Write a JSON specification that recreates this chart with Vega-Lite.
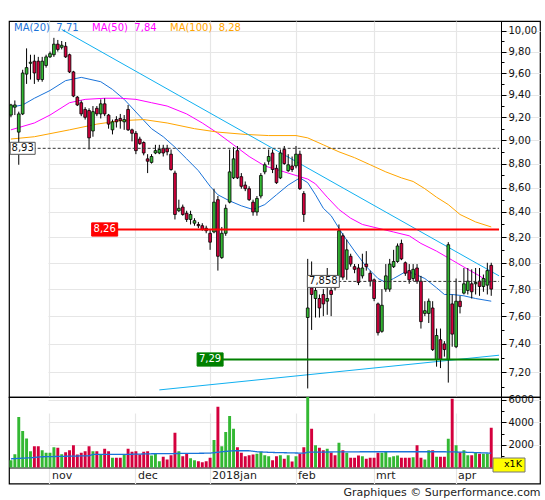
{
  "$schema": "https://vega.github.io/schema/vega-lite/v6.json",
  "padding": {"left": 7, "top": 20, "right": 0, "bottom": 0},
  "background": "white",
  "bounds": "flush",
  "title": {"text": "Graphiques © Surperformance.com", "orient": "bottom", "anchor": "end", "fontSize": 11, "fontWeight": "normal", "color": "#222", "offset": 3},
  "config": {
    "font": "DejaVu Sans",
    "view": {"stroke": "#000", "strokeWidth": 1.2},
    "axis": {"labelColor": "#111", "labelFontSize": 10, "domainColor": "#000", "tickColor": "#000", "gridColor": "#e6e6e6", "gridWidth": 1.2}
  },
  "datasets": {
    "days": [
      {"d": "2017-10-18", "o": 9.22, "h": 9.32, "l": 9.20, "c": 9.31, "v": 651},
      {"d": "2017-10-19", "o": 9.29, "h": 9.35, "l": 9.22, "c": 9.31, "v": 1184},
      {"d": "2017-10-20", "o": 9.07, "h": 9.25, "l": 8.79, "c": 9.23, "v": 4470},
      {"d": "2017-10-23", "o": 9.23, "h": 9.63, "l": 9.22, "c": 9.60, "v": 3226},
      {"d": "2017-10-24", "o": 9.59, "h": 9.83, "l": 9.50, "c": 9.65, "v": 2575},
      {"d": "2017-10-25", "o": 9.69, "h": 9.77, "l": 9.54, "c": 9.70, "v": 1451},
      {"d": "2017-10-26", "o": 9.71, "h": 9.77, "l": 9.50, "c": 9.60, "v": 1894},
      {"d": "2017-10-27", "o": 9.71, "h": 9.75, "l": 9.52, "c": 9.54, "v": 1894},
      {"d": "2017-10-30", "o": 9.54, "h": 9.75, "l": 9.52, "c": 9.71, "v": 1540},
      {"d": "2017-10-31", "o": 9.67, "h": 9.77, "l": 9.65, "c": 9.75, "v": 1302},
      {"d": "2017-11-01", "o": 9.75, "h": 9.80, "l": 9.74, "c": 9.78, "v": 1302},
      {"d": "2017-11-02", "o": 9.77, "h": 9.93, "l": 9.75, "c": 9.87, "v": 1806},
      {"d": "2017-11-03", "o": 9.87, "h": 9.91, "l": 9.80, "c": 9.82, "v": 1746},
      {"d": "2017-11-06", "o": 9.84, "h": 9.90, "l": 9.82, "c": 9.86, "v": 1184},
      {"d": "2017-11-07", "o": 9.85, "h": 9.89, "l": 9.74, "c": 9.75, "v": 1362},
      {"d": "2017-11-08", "o": 9.77, "h": 9.78, "l": 9.60, "c": 9.61, "v": 1540},
      {"d": "2017-11-09", "o": 9.61, "h": 9.62, "l": 9.38, "c": 9.39, "v": 1983},
      {"d": "2017-11-10", "o": 9.38, "h": 9.39, "l": 9.30, "c": 9.31, "v": 1154},
      {"d": "2017-11-13", "o": 9.33, "h": 9.35, "l": 9.21, "c": 9.23, "v": 1302},
      {"d": "2017-11-14", "o": 9.27, "h": 9.29, "l": 9.18, "c": 9.20, "v": 1450},
      {"d": "2017-11-15", "o": 9.26, "h": 9.28, "l": 8.92, "c": 9.02, "v": 1894},
      {"d": "2017-11-16", "o": 9.08, "h": 9.30, "l": 9.03, "c": 9.25, "v": 1450},
      {"d": "2017-11-17", "o": 9.28, "h": 9.30, "l": 9.21, "c": 9.23, "v": 1450},
      {"d": "2017-11-20", "o": 9.23, "h": 9.36, "l": 9.19, "c": 9.32, "v": 1154},
      {"d": "2017-11-21", "o": 9.32, "h": 9.37, "l": 9.21, "c": 9.23, "v": 1658},
      {"d": "2017-11-22", "o": 9.22, "h": 9.23, "l": 9.10, "c": 9.14, "v": 1450},
      {"d": "2017-11-23", "o": 9.09, "h": 9.18, "l": 9.05, "c": 9.16, "v": 858},
      {"d": "2017-11-24", "o": 9.18, "h": 9.21, "l": 9.11, "c": 9.16, "v": 858},
      {"d": "2017-11-27", "o": 9.19, "h": 9.23, "l": 9.10, "c": 9.17, "v": 858},
      {"d": "2017-11-28", "o": 9.16, "h": 9.22, "l": 9.09, "c": 9.18, "v": 1154},
      {"d": "2017-11-29", "o": 9.27, "h": 9.31, "l": 9.08, "c": 9.09, "v": 1658},
      {"d": "2017-11-30", "o": 9.09, "h": 9.10, "l": 8.99, "c": 9.06, "v": 1391},
      {"d": "2017-12-01", "o": 9.06, "h": 9.08, "l": 8.88, "c": 8.91, "v": 1450},
      {"d": "2017-12-04", "o": 9.01, "h": 9.03, "l": 8.96, "c": 8.97, "v": 1154},
      {"d": "2017-12-05", "o": 8.98, "h": 8.99, "l": 8.87, "c": 8.89, "v": 1391},
      {"d": "2017-12-06", "o": 8.84, "h": 8.88, "l": 8.72, "c": 8.82, "v": 1450},
      {"d": "2017-12-07", "o": 8.81, "h": 8.88, "l": 8.80, "c": 8.86, "v": 1066},
      {"d": "2017-12-08", "o": 8.89, "h": 8.96, "l": 8.88, "c": 8.91, "v": 1243},
      {"d": "2017-12-11", "o": 8.89, "h": 8.96, "l": 8.88, "c": 8.92, "v": 562},
      {"d": "2017-12-12", "o": 8.93, "h": 8.96, "l": 8.86, "c": 8.89, "v": 947},
      {"d": "2017-12-13", "o": 8.93, "h": 8.96, "l": 8.87, "c": 8.90, "v": 710},
      {"d": "2017-12-14", "o": 8.88, "h": 8.92, "l": 8.74, "c": 8.75, "v": 1095},
      {"d": "2017-12-15", "o": 8.72, "h": 8.74, "l": 8.34, "c": 8.38, "v": 3078},
      {"d": "2017-12-18", "o": 8.41, "h": 8.50, "l": 8.40, "c": 8.43, "v": 1450},
      {"d": "2017-12-19", "o": 8.44, "h": 8.46, "l": 8.37, "c": 8.38, "v": 1006},
      {"d": "2017-12-20", "o": 8.39, "h": 8.41, "l": 8.32, "c": 8.34, "v": 1214},
      {"d": "2017-12-21", "o": 8.34, "h": 8.41, "l": 8.30, "c": 8.38, "v": 829},
      {"d": "2017-12-22", "o": 8.31, "h": 8.35, "l": 8.29, "c": 8.33, "v": 651},
      {"d": "2017-12-27", "o": 8.30, "h": 8.32, "l": 8.27, "c": 8.29, "v": 562},
      {"d": "2017-12-28", "o": 8.29, "h": 8.31, "l": 8.25, "c": 8.26, "v": 474},
      {"d": "2017-12-29", "o": 8.27, "h": 8.29, "l": 8.23, "c": 8.25, "v": 562},
      {"d": "2018-01-02", "o": 8.23, "h": 8.26, "l": 8.10, "c": 8.16, "v": 858},
      {"d": "2018-01-03", "o": 8.24, "h": 8.59, "l": 8.23, "c": 8.48, "v": 2427},
      {"d": "2018-01-04", "o": 8.50, "h": 8.53, "l": 7.94, "c": 8.05, "v": 5387},
      {"d": "2018-01-05", "o": 8.04, "h": 8.28, "l": 8.03, "c": 8.23, "v": 1894},
      {"d": "2018-01-08", "o": 8.23, "h": 8.46, "l": 8.21, "c": 8.43, "v": 3138},
      {"d": "2018-01-09", "o": 8.48, "h": 8.92, "l": 8.47, "c": 8.73, "v": 4558},
      {"d": "2018-01-10", "o": 8.68, "h": 8.94, "l": 8.67, "c": 8.84, "v": 3434},
      {"d": "2018-01-11", "o": 8.91, "h": 8.95, "l": 8.67, "c": 8.68, "v": 1806},
      {"d": "2018-01-12", "o": 8.69, "h": 8.72, "l": 8.59, "c": 8.61, "v": 1302},
      {"d": "2018-01-15", "o": 8.62, "h": 8.65, "l": 8.57, "c": 8.59, "v": 1006},
      {"d": "2018-01-16", "o": 8.59, "h": 8.61, "l": 8.49, "c": 8.50, "v": 1095},
      {"d": "2018-01-17", "o": 8.48, "h": 8.50, "l": 8.37, "c": 8.40, "v": 1154},
      {"d": "2018-01-18", "o": 8.40, "h": 8.53, "l": 8.37, "c": 8.51, "v": 1214},
      {"d": "2018-01-19", "o": 8.53, "h": 8.72, "l": 8.51, "c": 8.70, "v": 1391},
      {"d": "2018-01-22", "o": 8.73, "h": 8.81, "l": 8.71, "c": 8.79, "v": 1095},
      {"d": "2018-01-23", "o": 8.82, "h": 8.92, "l": 8.79, "c": 8.86, "v": 1006},
      {"d": "2018-01-24", "o": 8.89, "h": 8.92, "l": 8.72, "c": 8.75, "v": 651},
      {"d": "2018-01-25", "o": 8.76, "h": 8.79, "l": 8.63, "c": 8.64, "v": 1006},
      {"d": "2018-01-26", "o": 8.68, "h": 8.92, "l": 8.67, "c": 8.89, "v": 1095},
      {"d": "2018-01-29", "o": 8.92, "h": 8.95, "l": 8.79, "c": 8.80, "v": 770},
      {"d": "2018-01-30", "o": 8.74, "h": 8.88, "l": 8.73, "c": 8.79, "v": 1095},
      {"d": "2018-01-31", "o": 8.78, "h": 8.86, "l": 8.73, "c": 8.75, "v": 533},
      {"d": "2018-02-01", "o": 8.78, "h": 8.95, "l": 8.76, "c": 8.88, "v": 1006},
      {"d": "2018-02-02", "o": 8.88, "h": 8.91, "l": 8.58, "c": 8.59, "v": 1214},
      {"d": "2018-02-05", "o": 8.55, "h": 8.57, "l": 8.32, "c": 8.38, "v": 1806},
      {"d": "2018-02-06", "o": 7.59, "h": 8.03, "l": 7.09, "c": 7.66, "v": 6800},
      {"d": "2018-02-07", "o": 7.81, "h": 8.01, "l": 7.50, "c": 7.76, "v": 3434},
      {"d": "2018-02-08", "o": 7.73, "h": 7.81, "l": 7.59, "c": 7.79, "v": 1983},
      {"d": "2018-02-09", "o": 7.73, "h": 7.76, "l": 7.59, "c": 7.66, "v": 1746},
      {"d": "2018-02-12", "o": 7.76, "h": 7.80, "l": 7.60, "c": 7.69, "v": 1540},
      {"d": "2018-02-13", "o": 7.71, "h": 7.96, "l": 7.61, "c": 7.73, "v": 1658},
      {"d": "2018-02-14", "o": 7.79, "h": 7.81, "l": 7.60, "c": 7.76, "v": 1302},
      {"d": "2018-02-15", "o": 7.83, "h": 7.86, "l": 7.79, "c": 7.81, "v": 1095},
      {"d": "2018-02-16", "o": 7.89, "h": 8.30, "l": 7.87, "c": 8.25, "v": 2190},
      {"d": "2018-02-19", "o": 8.21, "h": 8.23, "l": 7.87, "c": 7.89, "v": 1540},
      {"d": "2018-02-20", "o": 7.95, "h": 8.18, "l": 7.87, "c": 8.10, "v": 1302},
      {"d": "2018-02-21", "o": 8.05, "h": 8.07, "l": 7.97, "c": 7.99, "v": 858},
      {"d": "2018-02-22", "o": 7.97, "h": 7.99, "l": 7.92, "c": 7.95, "v": 858},
      {"d": "2018-02-23", "o": 7.96, "h": 7.99, "l": 7.83, "c": 7.85, "v": 1066},
      {"d": "2018-02-26", "o": 7.90, "h": 8.07, "l": 7.88, "c": 7.96, "v": 1006},
      {"d": "2018-02-27", "o": 7.99, "h": 8.09, "l": 7.94, "c": 7.97, "v": 770},
      {"d": "2018-02-28", "o": 7.92, "h": 7.94, "l": 7.82, "c": 7.86, "v": 858},
      {"d": "2018-03-01", "o": 7.87, "h": 7.88, "l": 7.71, "c": 7.73, "v": 858},
      {"d": "2018-03-02", "o": 7.69, "h": 7.70, "l": 7.46, "c": 7.48, "v": 1302},
      {"d": "2018-03-05", "o": 7.49, "h": 7.80, "l": 7.48, "c": 7.68, "v": 1302},
      {"d": "2018-03-06", "o": 7.80, "h": 7.99, "l": 7.78, "c": 7.90, "v": 1450},
      {"d": "2018-03-07", "o": 7.80, "h": 8.03, "l": 7.78, "c": 7.99, "v": 918},
      {"d": "2018-03-08", "o": 7.97, "h": 8.10, "l": 7.96, "c": 8.01, "v": 1006},
      {"d": "2018-03-09", "o": 8.01, "h": 8.15, "l": 8.00, "c": 8.13, "v": 1066},
      {"d": "2018-03-12", "o": 8.15, "h": 8.18, "l": 8.02, "c": 8.03, "v": 858},
      {"d": "2018-03-13", "o": 8.00, "h": 8.01, "l": 7.90, "c": 7.92, "v": 858},
      {"d": "2018-03-14", "o": 7.94, "h": 7.99, "l": 7.84, "c": 7.87, "v": 858},
      {"d": "2018-03-15", "o": 7.88, "h": 7.99, "l": 7.86, "c": 7.95, "v": 918},
      {"d": "2018-03-16", "o": 7.96, "h": 7.99, "l": 7.84, "c": 7.86, "v": 1983},
      {"d": "2018-03-19", "o": 7.86, "h": 7.90, "l": 7.51, "c": 7.56, "v": 858},
      {"d": "2018-03-20", "o": 7.62, "h": 7.71, "l": 7.60, "c": 7.64, "v": 710},
      {"d": "2018-03-21", "o": 7.62, "h": 7.73, "l": 7.55, "c": 7.71, "v": 1540},
      {"d": "2018-03-22", "o": 7.66, "h": 7.71, "l": 7.35, "c": 7.36, "v": 1540},
      {"d": "2018-03-23", "o": 7.29, "h": 7.51, "l": 7.24, "c": 7.46, "v": 947},
      {"d": "2018-03-26", "o": 7.43, "h": 7.51, "l": 7.23, "c": 7.29, "v": 947},
      {"d": "2018-03-27", "o": 7.40, "h": 7.42, "l": 7.31, "c": 7.36, "v": 950},
      {"d": "2018-03-28", "o": 7.29, "h": 8.16, "l": 7.13, "c": 8.14, "v": 2546},
      {"d": "2018-03-29", "o": 7.69, "h": 7.76, "l": 7.38, "c": 7.47, "v": 6098},
      {"d": "2018-04-03", "o": 7.38, "h": 7.88, "l": 7.37, "c": 7.71, "v": 1983},
      {"d": "2018-04-04", "o": 7.71, "h": 7.75, "l": 7.62, "c": 7.67, "v": 1362},
      {"d": "2018-04-05", "o": 7.77, "h": 7.96, "l": 7.76, "c": 7.84, "v": 1540},
      {"d": "2018-04-06", "o": 7.79, "h": 7.96, "l": 7.76, "c": 7.86, "v": 1095},
      {"d": "2018-04-09", "o": 7.84, "h": 7.95, "l": 7.73, "c": 7.78, "v": 1095},
      {"d": "2018-04-10", "o": 7.84, "h": 7.96, "l": 7.76, "c": 7.85, "v": 1362},
      {"d": "2018-04-11", "o": 7.86, "h": 7.96, "l": 7.75, "c": 7.82, "v": 1214},
      {"d": "2018-04-12", "o": 7.82, "h": 7.91, "l": 7.78, "c": 7.88, "v": 1214},
      {"d": "2018-04-13", "o": 7.83, "h": 8.00, "l": 7.76, "c": 7.94, "v": 1214},
      {"d": "2018-04-16", "o": 7.98, "h": 8.00, "l": 7.75, "c": 7.80, "v": 3522}
    ],
    "ma": [
      {"d": "2017-10-18", "ma": "MA(20)", "v": 9.29},
      {"d": "2017-10-23", "ma": "MA(20)", "v": 9.31},
      {"d": "2017-10-26", "ma": "MA(20)", "v": 9.37},
      {"d": "2017-11-01", "ma": "MA(20)", "v": 9.44},
      {"d": "2017-11-07", "ma": "MA(20)", "v": 9.53},
      {"d": "2017-11-13", "ma": "MA(20)", "v": 9.56},
      {"d": "2017-11-20", "ma": "MA(20)", "v": 9.52},
      {"d": "2017-11-23", "ma": "MA(20)", "v": 9.45},
      {"d": "2017-11-28", "ma": "MA(20)", "v": 9.36},
      {"d": "2017-12-04", "ma": "MA(20)", "v": 9.21},
      {"d": "2017-12-07", "ma": "MA(20)", "v": 9.10},
      {"d": "2017-12-12", "ma": "MA(20)", "v": 9.03},
      {"d": "2017-12-15", "ma": "MA(20)", "v": 8.94},
      {"d": "2017-12-20", "ma": "MA(20)", "v": 8.84},
      {"d": "2017-12-27", "ma": "MA(20)", "v": 8.74},
      {"d": "2018-01-02", "ma": "MA(20)", "v": 8.61},
      {"d": "2018-01-04", "ma": "MA(20)", "v": 8.54},
      {"d": "2018-01-09", "ma": "MA(20)", "v": 8.49},
      {"d": "2018-01-12", "ma": "MA(20)", "v": 8.45},
      {"d": "2018-01-17", "ma": "MA(20)", "v": 8.42},
      {"d": "2018-01-22", "ma": "MA(20)", "v": 8.46},
      {"d": "2018-01-25", "ma": "MA(20)", "v": 8.54},
      {"d": "2018-01-30", "ma": "MA(20)", "v": 8.62},
      {"d": "2018-02-02", "ma": "MA(20)", "v": 8.68},
      {"d": "2018-02-06", "ma": "MA(20)", "v": 8.64},
      {"d": "2018-02-08", "ma": "MA(20)", "v": 8.54},
      {"d": "2018-02-12", "ma": "MA(20)", "v": 8.43},
      {"d": "2018-02-14", "ma": "MA(20)", "v": 8.37},
      {"d": "2018-02-19", "ma": "MA(20)", "v": 8.22},
      {"d": "2018-02-22", "ma": "MA(20)", "v": 8.09},
      {"d": "2018-02-27", "ma": "MA(20)", "v": 7.97},
      {"d": "2018-03-02", "ma": "MA(20)", "v": 7.88},
      {"d": "2018-03-06", "ma": "MA(20)", "v": 7.85},
      {"d": "2018-03-08", "ma": "MA(20)", "v": 7.88},
      {"d": "2018-03-13", "ma": "MA(20)", "v": 7.93},
      {"d": "2018-03-15", "ma": "MA(20)", "v": 7.92},
      {"d": "2018-03-20", "ma": "MA(20)", "v": 7.88},
      {"d": "2018-03-23", "ma": "MA(20)", "v": 7.81},
      {"d": "2018-03-27", "ma": "MA(20)", "v": 7.76},
      {"d": "2018-03-29", "ma": "MA(20)", "v": 7.76},
      {"d": "2018-04-05", "ma": "MA(20)", "v": 7.75},
      {"d": "2018-04-10", "ma": "MA(20)", "v": 7.73},
      {"d": "2018-04-16", "ma": "MA(20)", "v": 7.71},
      {"d": "2017-10-18", "ma": "MA(50)", "v": 9.09},
      {"d": "2017-10-26", "ma": "MA(50)", "v": 9.15},
      {"d": "2017-11-01", "ma": "MA(50)", "v": 9.22},
      {"d": "2017-11-08", "ma": "MA(50)", "v": 9.33},
      {"d": "2017-11-14", "ma": "MA(50)", "v": 9.36},
      {"d": "2017-11-21", "ma": "MA(50)", "v": 9.37},
      {"d": "2017-11-27", "ma": "MA(50)", "v": 9.37},
      {"d": "2017-12-01", "ma": "MA(50)", "v": 9.36},
      {"d": "2017-12-07", "ma": "MA(50)", "v": 9.33},
      {"d": "2017-12-13", "ma": "MA(50)", "v": 9.30},
      {"d": "2017-12-20", "ma": "MA(50)", "v": 9.23},
      {"d": "2017-12-28", "ma": "MA(50)", "v": 9.15},
      {"d": "2018-01-04", "ma": "MA(50)", "v": 9.06},
      {"d": "2018-01-10", "ma": "MA(50)", "v": 8.96},
      {"d": "2018-01-16", "ma": "MA(50)", "v": 8.86},
      {"d": "2018-01-22", "ma": "MA(50)", "v": 8.78},
      {"d": "2018-01-26", "ma": "MA(50)", "v": 8.74},
      {"d": "2018-02-01", "ma": "MA(50)", "v": 8.70},
      {"d": "2018-02-06", "ma": "MA(50)", "v": 8.67},
      {"d": "2018-02-08", "ma": "MA(50)", "v": 8.63},
      {"d": "2018-02-13", "ma": "MA(50)", "v": 8.52},
      {"d": "2018-02-16", "ma": "MA(50)", "v": 8.42},
      {"d": "2018-02-21", "ma": "MA(50)", "v": 8.35},
      {"d": "2018-02-26", "ma": "MA(50)", "v": 8.30},
      {"d": "2018-03-02", "ma": "MA(50)", "v": 8.27},
      {"d": "2018-03-08", "ma": "MA(50)", "v": 8.24},
      {"d": "2018-03-14", "ma": "MA(50)", "v": 8.21},
      {"d": "2018-03-19", "ma": "MA(50)", "v": 8.15},
      {"d": "2018-03-23", "ma": "MA(50)", "v": 8.09},
      {"d": "2018-03-29", "ma": "MA(50)", "v": 8.02},
      {"d": "2018-04-06", "ma": "MA(50)", "v": 7.95},
      {"d": "2018-04-11", "ma": "MA(50)", "v": 7.90},
      {"d": "2018-04-16", "ma": "MA(50)", "v": 7.84},
      {"d": "2017-10-18", "ma": "MA(100)", "v": 9.01},
      {"d": "2017-10-26", "ma": "MA(100)", "v": 9.03},
      {"d": "2017-11-08", "ma": "MA(100)", "v": 9.09},
      {"d": "2017-11-17", "ma": "MA(100)", "v": 9.14},
      {"d": "2017-11-27", "ma": "MA(100)", "v": 9.17},
      {"d": "2017-12-05", "ma": "MA(100)", "v": 9.18},
      {"d": "2017-12-13", "ma": "MA(100)", "v": 9.15},
      {"d": "2017-12-22", "ma": "MA(100)", "v": 9.10},
      {"d": "2018-01-04", "ma": "MA(100)", "v": 9.07},
      {"d": "2018-01-15", "ma": "MA(100)", "v": 9.05},
      {"d": "2018-01-23", "ma": "MA(100)", "v": 9.04},
      {"d": "2018-02-01", "ma": "MA(100)", "v": 9.04},
      {"d": "2018-02-06", "ma": "MA(100)", "v": 9.02},
      {"d": "2018-02-12", "ma": "MA(100)", "v": 8.96},
      {"d": "2018-02-16", "ma": "MA(100)", "v": 8.90},
      {"d": "2018-02-22", "ma": "MA(100)", "v": 8.85},
      {"d": "2018-02-28", "ma": "MA(100)", "v": 8.79},
      {"d": "2018-03-06", "ma": "MA(100)", "v": 8.73},
      {"d": "2018-03-12", "ma": "MA(100)", "v": 8.68},
      {"d": "2018-03-15", "ma": "MA(100)", "v": 8.65},
      {"d": "2018-03-20", "ma": "MA(100)", "v": 8.59},
      {"d": "2018-03-23", "ma": "MA(100)", "v": 8.52},
      {"d": "2018-03-28", "ma": "MA(100)", "v": 8.46},
      {"d": "2018-04-04", "ma": "MA(100)", "v": 8.38},
      {"d": "2018-04-10", "ma": "MA(100)", "v": 8.32},
      {"d": "2018-04-16", "ma": "MA(100)", "v": 8.28}
    ],
    "trend": [
      {"d": "2017-11-06", "t": "down", "v": 10.01},
      {"d": "2018-04-18", "t": "down", "v": 7.90},
      {"d": "2017-12-11", "t": "up", "v": 7.08},
      {"d": "2018-04-18", "t": "up", "v": 7.32}
    ],
    "levels": [
      {"d": "2017-10-23", "d2": "2018-04-18", "v": 8.93, "lbl": "8,93"},
      {"d": "2018-02-12", "d2": "2018-04-18", "v": 7.858, "lbl": "7,858"},
      {"d": "2017-11-21", "d2": "2018-04-18", "v": 8.26, "lbl": "8,26"},
      {"d": "2018-01-02", "d2": "2018-04-18", "v": 7.29, "lbl": "7,29"}
    ],
    "vma": [
      {"d": "2017-10-18", "v": 773},
      {"d": "2017-10-25", "v": 862},
      {"d": "2017-10-30", "v": 951},
      {"d": "2017-11-15", "v": 1040},
      {"d": "2017-11-16", "v": 1156},
      {"d": "2017-11-28", "v": 1156},
      {"d": "2017-12-07", "v": 1218},
      {"d": "2018-01-02", "v": 1271},
      {"d": "2018-01-05", "v": 1396},
      {"d": "2018-01-10", "v": 1484},
      {"d": "2018-01-16", "v": 1484},
      {"d": "2018-01-18", "v": 1396},
      {"d": "2018-01-24", "v": 1333},
      {"d": "2018-02-05", "v": 1271},
      {"d": "2018-02-06", "v": 1360},
      {"d": "2018-02-26", "v": 1396},
      {"d": "2018-03-27", "v": 1396},
      {"d": "2018-04-05", "v": 1360},
      {"d": "2018-04-16", "v": 1271}
    ]
  },
  "spacing": 0,
  "vconcat": [
    {
      "width": 531,
      "height": 376,
      "encoding": {
        "x": {
          "field": "d",
          "type": "ordinal",
          "scale": {"domain": {"unionWith": ["2018-04-17", "2018-04-18"]}, "range": [0, 492], "paddingInner": 0, "paddingOuter": 0},
          "axis": {"values": ["2017-11-01", "2017-12-01", "2018-01-02", "2018-02-01", "2018-03-01", "2018-04-03"], "bandPosition": 0.5, "grid": true, "labels": false, "ticks": false, "domain": false, "title": null, "minExtent": 0, "maxExtent": 0}
        }
      },
      "layer": [
        {
          "data": {"name": "ma"},
          "mark": {"type": "line", "strokeWidth": 1},
          "encoding": {
            "y": {
              "field": "v",
              "type": "quantitative",
              "scale": {"type": "log", "domain": [7.032, 10.092], "nice": false, "zero": false},
              "axis": {
                "orient": "right",
                "offset": -39,
                "title": null,
                "values": [7.1, 7.2, 7.3, 7.4, 7.5, 7.6, 7.7, 7.8, 7.9, 8.0, 8.1, 8.2, 8.3, 8.4, 8.5, 8.6, 8.7, 8.8, 8.9, 9.0, 9.1, 9.2, 9.3, 9.4, 9.5, 9.6, 9.7, 9.8, 9.9, 10.0],
                "labelExpr": "round(datum.value*10) % 2 == 0 ? replace(format(datum.value, '.2f'), '.', ',') : ''",
                "labelOverlap": false,
                "labelFlush": false,
                "labelPadding": 2,
                "grid": true,
                "gridOpacity": {"condition": {"test": "round(datum.value*10) % 2 == 0", "value": 1}, "value": 0},
                "tickSize": {"condition": {"test": "round(datum.value*10) % 2 == 0", "value": 5}, "value": 3}
              }
            },
            "color": {
              "field": "ma",
              "type": "nominal",
              "scale": {"domain": ["MA(20)", "MA(50)", "MA(100)"], "range": ["#1a73d9", "#ff00ff", "#ffa500"]},
              "legend": {
                "orient": "none",
                "legendX": 0,
                "legendY": 2,
                "padding": 0,
                "direction": "horizontal",
                "title": null,
                "symbolType": "circle",
                "symbolSize": 0,
                "symbolStrokeWidth": 0,
                "labelOffset": -5,
                "columnPadding": 8,
                "labelFontSize": 10,
                "labelExpr": "datum.label + '\u00a0\u00a0' + (datum.label == 'MA(20)' ? '7,71' : datum.label == 'MA(50)' ? '7,84' : '8,28')",
                "labelColor": {"expr": "datum.value == 'MA(20)' ? '#1a73d9' : datum.value == 'MA(50)' ? '#ff00ff' : '#ffa500'"}
              }
            }
          }
        },
        {
          "data": {"name": "trend"},
          "mark": {"type": "line", "color": "#10b0f0", "strokeWidth": 1},
          "encoding": {"y": {"field": "v", "type": "quantitative"}, "detail": {"field": "t"}}
        },
        {
          "data": {"name": "days"},
          "mark": {"type": "rule", "color": "#000", "strokeWidth": 1},
          "encoding": {"y": {"field": "l", "type": "quantitative"}, "y2": {"field": "h"}}
        },
        {
          "data": {"name": "days"},
          "mark": {"type": "bar", "width": {"band": 0.7}, "stroke": "#000", "strokeWidth": 0.8},
          "encoding": {
            "y": {"field": "o", "type": "quantitative"},
            "y2": {"field": "c"},
            "fill": {"condition": {"test": "datum.c >= datum.o", "value": "#33b833"}, "value": "#d4003d"}
          }
        },
        {
          "data": {"name": "levels"},
          "mark": {"type": "rule"},
          "encoding": {
            "y": {"field": "v", "type": "quantitative"},
            "x2": {"field": "d2"},
            "stroke": {"condition": [{"test": "datum.lbl == '8,26'", "value": "#ff0000"}, {"test": "datum.lbl == '7,29'", "value": "#008000"}], "value": "#333"},
            "strokeDash": {"condition": {"test": "datum.lbl == '8,93' || datum.lbl == '7,858'", "value": [3, 2]}, "value": [1, 0]},
            "strokeWidth": {"condition": {"test": "datum.lbl == '8,93' || datum.lbl == '7,858'", "value": 1}, "value": 2}
          }
        },
        {
          "data": {"name": "levels"},
          "mark": {"type": "point", "filled": true, "size": 4, "opacity": 1},
          "encoding": {
            "y": {"field": "v", "type": "quantitative"},
            "shape": {"condition": [{"test": "datum.lbl == '7,858'", "value": "M-16,-6H16V6H-16Z"}, {"test": "datum.lbl == '8,93'", "value": "M-12.5,-6H12.5V6H-12.5Z"}], "value": "M-13,-6.6H13V6.6H-13Z"},
            "fill": {"condition": [{"test": "datum.lbl == '8,26'", "value": "#ff0000"}, {"test": "datum.lbl == '7,29'", "value": "#008000"}], "value": "#ffffff"},
            "stroke": {"condition": [{"test": "datum.lbl == '8,26'", "value": "#ff0000"}, {"test": "datum.lbl == '7,29'", "value": "#008000"}], "value": "#555"},
            "strokeWidth": {"value": 1}
          }
        },
        {
          "data": {"name": "levels"},
          "mark": {"type": "text", "fontSize": 10, "align": "center", "baseline": "middle"},
          "encoding": {
            "y": {"field": "v", "type": "quantitative"},
            "text": {"field": "lbl"},
            "fill": {"condition": {"test": "datum.lbl == '8,26' || datum.lbl == '7,29'", "value": "#ffffff"}, "value": "#111"}
          }
        }
      ]
    },
    {
      "width": 531,
      "height": 86.5,
      "encoding": {
        "x": {
          "field": "d",
          "type": "ordinal",
          "scale": {"domain": {"unionWith": ["2018-04-17", "2018-04-18"]}, "range": [0, 492], "paddingInner": 0, "paddingOuter": 0},
          "axis": {
            "values": ["2017-11-01", "2017-12-01", "2018-01-02", "2018-02-01", "2018-03-01", "2018-04-03"],
            "bandPosition": 0.5,
            "orient": "bottom",
            "offset": -16,
            "grid": true,
            "ticks": false,
            "domain": true,
            "title": null,
            "labelExpr": "{'2017-11-01':'nov','2017-12-01':'dec','2018-01-02':'2018jan','2018-02-01':'feb','2018-03-01':'mrt','2018-04-03':'apr'}[datum.value]",
            "labelAngle": 0,
            "labelAlign": "left",
            "labelBaseline": "top",
            "labelPadding": 2,
            "labelOffset": 2,
            "labelFontSize": 11,
            "labelColor": "#222"
          }
        },
        "y": {
          "field": "v",
          "type": "quantitative",
          "scale": {"domain": [0, 6250], "range": [70.5, 0], "nice": false},
          "axis": {
            "orient": "right",
            "offset": -39,
            "title": null,
            "values": [1000, 2000, 3000, 4000, 5000, 6000],
            "labelExpr": "datum.value % 2000 == 0 ? format(datum.value, 'd') : ''",
            "labelOverlap": false,
            "labelFlush": false,
            "labelPadding": 2,
            "grid": true,
            "gridOpacity": {"condition": {"test": "datum.value % 2000 == 0", "value": 1}, "value": 0},
            "tickSize": {"condition": {"test": "datum.value % 2000 == 0", "value": 5}, "value": 3}
          }
        }
      },
      "layer": [
        {
          "data": {"name": "days"},
          "mark": {"type": "bar", "width": {"band": 0.75}, "clip": true},
          "encoding": {
            "fill": {"condition": {"test": "datum.c >= datum.o", "value": "#33b833"}, "value": "#d4003d"}
          }
        },
        {
          "data": {"name": "vma"},
          "mark": {"type": "line", "color": "#1a73d9", "strokeWidth": 1.3},
          "encoding": {
            "strokeDash": {
              "datum": "x1K",
              "type": "nominal",
              "scale": {"range": [[1, 0]]},
              "legend": {
                "orient": "none",
                "legendX": 483.5,
                "legendY": 436.5,
                "title": null,
                "symbolType": "circle",
                "symbolSize": 0,
                "symbolStrokeWidth": 0,
                "labelOffset": 0,
                "labelFontSize": 9.5,
                "labelColor": "#000",
                "fillColor": "#ffff00",
                "strokeColor": "#777",
                "padding": 2
              }
            }
          }
        }
      ]
    }
  ]
}
